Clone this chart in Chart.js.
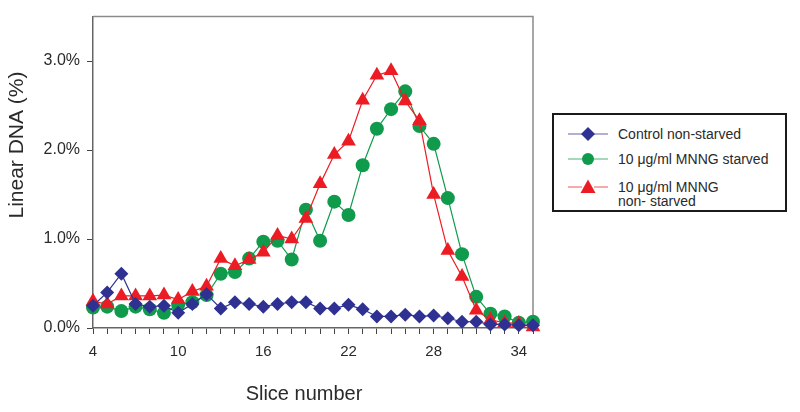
<!DOCTYPE html>
<html>
<head>
<meta charset="utf-8">
<script src="https://cdn.jsdelivr.net/npm/chart.js@4.4.1/dist/chart.umd.min.js"></script>
<style>
  html, body { margin: 0; padding: 0; background: #fff; }
  #wrap { position: relative; width: 800px; height: 412px; }
  #legend {
    position: absolute; left: 552px; top: 113px; width: 231px; height: 95px;
    border: 2px solid #1a1a1a; background: #fff;
    font: 14px "Liberation Sans", Arial, sans-serif; color: #2a2a2a;
  }
  .mark { position: absolute; left: 14px; }
  .txt { position: absolute; left: 64px; line-height: 14px; white-space: pre-line; }
</style>
</head>
<body>
<div id="wrap">
  <canvas id="dna" width="800" height="412"></canvas>
  <div id="legend"></div>
</div>
<script>
// data
const slices = [4, 5, 6, 7, 8, 9, 10, 11, 12, 13, 14, 15, 16, 17, 18, 19,
                20, 21, 22, 23, 24, 25, 26, 27, 28, 29, 30, 31, 32, 33, 34, 35];
const control = [0.25, 0.40, 0.61, 0.27, 0.24, 0.25, 0.17, 0.27, 0.38, 0.22, 0.29, 0.27, 0.24, 0.27, 0.29, 0.29,
                 0.22, 0.22, 0.26, 0.21, 0.13, 0.13, 0.15, 0.13, 0.14, 0.11, 0.07, 0.07, 0.04, 0.04, 0.03, 0.03];
const starved = [0.23, 0.24, 0.19, 0.24, 0.21, 0.17, 0.26, 0.29, 0.37, 0.61, 0.63, 0.78, 0.97, 0.98, 0.77, 1.33,
                 0.98, 1.42, 1.27, 1.83, 2.24, 2.46, 2.66, 2.27, 2.07, 1.46, 0.83, 0.35, 0.16, 0.13, 0.06, 0.07];
const nonStarved = [0.30, 0.27, 0.36, 0.36, 0.36, 0.37, 0.32, 0.41, 0.47, 0.78, 0.70, 0.77, 0.85, 1.04, 1.00, 1.23,
                    1.62, 1.95, 2.10, 2.56, 2.84, 2.89, 2.55, 2.33, 1.50, 0.87, 0.58, 0.20, 0.09, 0.06, 0.05, 0.01];
const yTicks = [0, 1, 2, 3];
const xLabelTicks = [4, 10, 16, 22, 28, 34];
const seriesNames = ['Control non-starved', '10 \u03bcg/ml MNNG starved', '10 \u03bcg/ml MNNG\nnon- starved'];
const seriesColors = ['#2e3192', '#109a4c', '#ec1c24'];
const seriesShapes = ['rectRot', 'circle', 'triangle'];
const xTitle = 'Slice number';
const yTitle = 'Linear DNA (%)';

const font = '"Liberation Sans", Arial, sans-serif';
const allSeries = [control, starved, nonStarved];
const sizes = [7, 7, 8.5];
const orders = [0, 2, 1];

const datasets = allSeries.map((vals, i) => ({
  label: seriesNames[i].replace('\n', ' '),
  data: slices.map((s, j) => ({ x: s, y: vals[j] })),
  borderColor: seriesColors[i],
  backgroundColor: seriesColors[i],
  borderWidth: 1.2,
  pointStyle: seriesShapes[i],
  pointRadius: sizes[i],
  pointBorderWidth: 0,
  tension: 0,
  clip: false,
  order: orders[i],
}));

// grey frame on top and right of the plot
const frame = {
  id: 'frame',
  beforeDatasetsDraw(chart) {
    const a = chart.chartArea;
    const c = chart.ctx;
    c.save();
    c.strokeStyle = '#8a8a8a';
    c.lineWidth = 1.5;
    c.beginPath();
    c.moveTo(a.left, a.top);
    c.lineTo(a.right, a.top);
    c.lineTo(a.right, a.bottom);
    c.stroke();
    c.restore();
  }
};

// axis titles sit a bit off-centre in the original, so draw them here
const axisTitles = {
  id: 'axisTitles',
  afterDraw(chart) {
    const c = chart.ctx;
    c.save();
    c.fillStyle = '#2a2a2a';
    c.textAlign = 'center';
    c.textBaseline = 'middle';
    c.font = '20px ' + font;
    c.fillText(xTitle, 304, 394);
    c.translate(17, 145);
    c.rotate(-Math.PI / 2);
    c.font = '21px ' + font;
    c.fillText(yTitle, 0, 0);
    c.restore();
  }
};

let ctx = document.getElementById('dna').getContext('2d');
let dnaChart = new Chart(ctx, {
  type: 'line',
  data: { datasets },
  options: {
    responsive: false,
    animation: false,
    layout: { padding: { top: 12, right: 267, left: 0, bottom: 0 } },
    plugins: { legend: { display: false }, tooltip: { enabled: false } },
    scales: {
      x: {
        type: 'linear', min: 4, max: 35,
        afterFit: s => { s.height = 84; },
        afterBuildTicks: s => { s.ticks = slices.map(v => ({ value: v })); },
        ticks: {
          autoSkip: false, maxRotation: 0, padding: 9, color: '#2a2a2a',
          font: { size: 15, family: font },
          callback: v => xLabelTicks.includes(v) ? String(v) : ''
        },
        grid: { drawOnChartArea: false, tickLength: 6, color: '#444' },
        border: { color: '#666', width: 1.5 }
      },
      y: {
        min: 0, max: 3.5,
        afterFit: s => { s.width = 93; },
        afterBuildTicks: s => { s.ticks = yTicks.map(v => ({ value: v })); },
        ticks: {
          padding: 7, color: '#2a2a2a', font: { size: 16, family: font },
          callback: v => v.toFixed(1) + '%'
        },
        grid: { drawOnChartArea: false, tickLength: 6, color: '#444' },
        border: { color: '#666', width: 1.5 }
      }
    }
  },
  plugins: [frame, axisTitles]
});

// html legend built from the same series arrays
function markerSvg(shape, color) {
  let m;
  if (shape === 'rectRot') m = `<polygon points="20,1 27,8 20,15 13,8" fill="${color}"/>`;
  else if (shape === 'circle') m = `<circle cx="20" cy="8" r="6" fill="${color}"/>`;
  else m = `<polygon points="20,0.5 27.5,14 12.5,14" fill="${color}"/>`;
  return `<svg width="40" height="16" viewBox="0 0 40 16">` +
         `<line x1="0" y1="8" x2="14" y2="8" stroke="${color}" stroke-width="1" opacity="0.75"/>` +
         `<line x1="26" y1="8" x2="40" y2="8" stroke="${color}" stroke-width="1" opacity="0.75"/>${m}</svg>`;
}
const rowCenter = [19, 44, 72];
const legend = document.getElementById('legend');
seriesNames.forEach((name, i) => {
  const mk = document.createElement('div');
  mk.className = 'mark';
  mk.style.top = (rowCenter[i] - 8) + 'px';
  mk.innerHTML = markerSvg(seriesShapes[i], seriesColors[i]);
  const tx = document.createElement('div');
  tx.className = 'txt';
  tx.style.top = (rowCenter[i] - 7) + 'px';
  tx.textContent = name;
  legend.appendChild(mk);
  legend.appendChild(tx);
});
</script>
</body>
</html>
